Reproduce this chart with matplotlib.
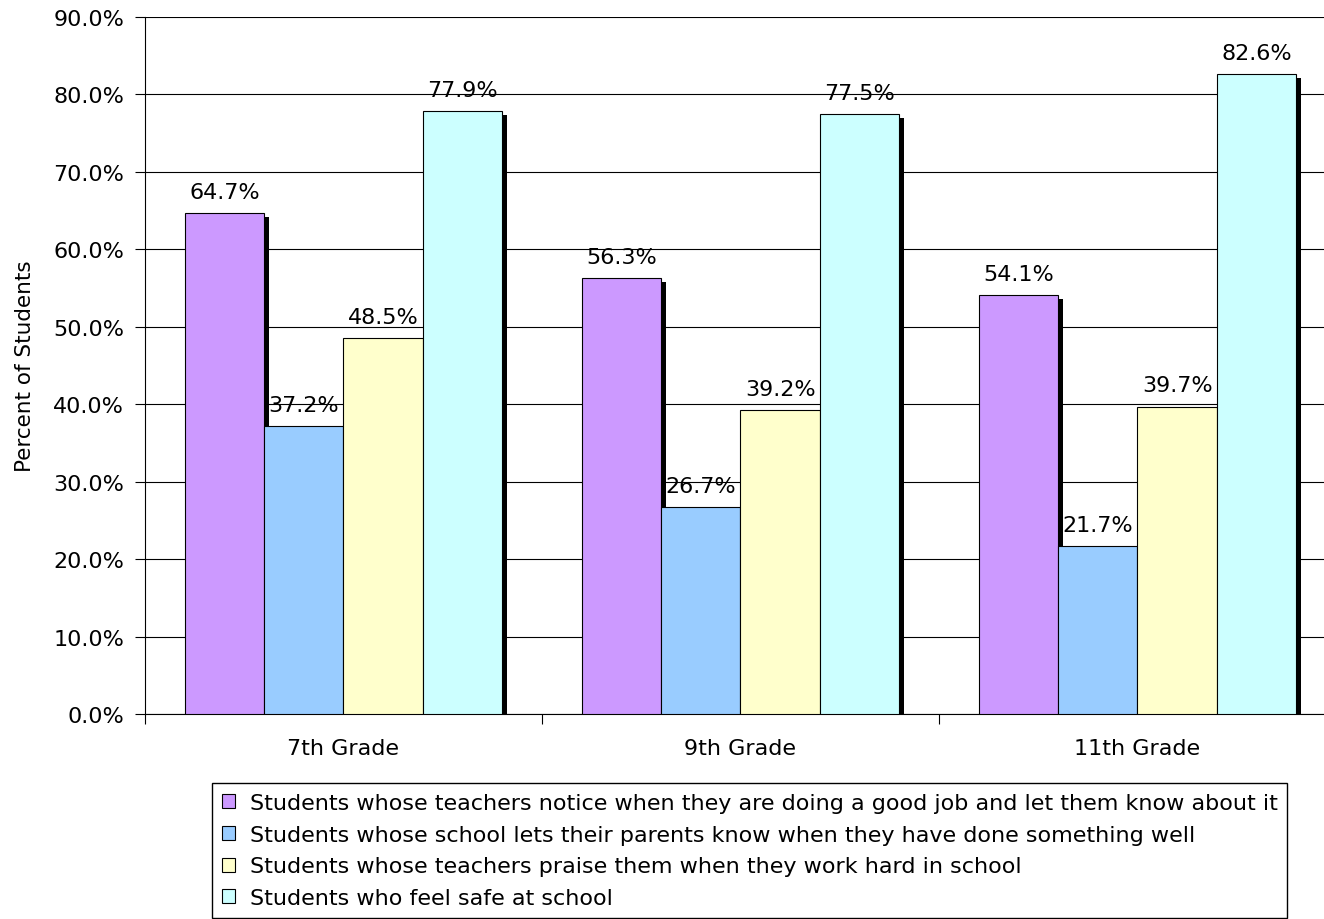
import numpy as np
import matplotlib.pyplot as plt
from matplotlib.ticker import FuncFormatter, FixedLocator

plt.rcParams['font.family'] = ['DejaVu Sans']

grades = ['7th Grade', '9th Grade', '11th Grade']
series_names = [
    'Students whose teachers notice when they are doing a good job and let them know about it',
    'Students whose school lets their parents know when they have done something well',
    'Students whose teachers praise them when they work hard in school',
    'Students who feel safe at school',
]
notice = [64.7, 56.3, 54.1]
parents = [37.2, 26.7, 21.7]
praise = [48.5, 39.2, 39.7]
safe = [77.9, 77.5, 82.6]
colors = ['#cc99ff', '#99ccff', '#ffffcc', '#ccffff']

values = [notice, parents, praise, safe]

fig = plt.figure(figsize=(13.24, 9.2), dpi=100)
ax = fig.add_axes([0.1095, 0.2228, 0.8995, 0.7576])

x = np.arange(len(grades))
w = 0.2
# shadows first so every bar sits on top of them
for i, vals in enumerate(values):
    pos = x + (i - 1.5) * w
    ax.bar(pos + 0.012, np.array(vals) - 0.5, w, bottom=0, color='black', zorder=2)
for i, vals in enumerate(values):
    pos = x + (i - 1.5) * w
    bars = ax.bar(pos, vals, w, color=colors[i], edgecolor='black', linewidth=0.8,
                  label=series_names[i], zorder=3)
    for b, v in zip(bars, vals):
        ax.annotate('%.1f%%' % v, (b.get_x() + b.get_width() / 2, v),
                    xytext=(0, 8), textcoords='offset points',
                    ha='center', va='bottom', fontsize=16, zorder=4)

ax.set_xlim(-0.5, 2.5)
ax.set_ylim(0, 90)
ax.set_yticks(np.arange(0, 91, 10))
ax.yaxis.set_major_formatter(FuncFormatter(lambda v, p: '%.1f%%' % v))
ax.yaxis.grid(True, color='black', linewidth=0.8, zorder=0)
ax.set_axisbelow(True)
ax.tick_params(axis='y', labelsize=16, length=7, width=0.8, pad=8)
ax.set_ylabel('Percent of Students', fontsize=15.5, labelpad=13)

ax.set_xticks(x)
ax.set_xticklabels(grades)
ax.xaxis.set_minor_locator(FixedLocator([-0.5, 0.5, 1.5, 2.5]))
ax.tick_params(axis='x', which='major', length=0, labelsize=16, pad=17)
ax.tick_params(axis='x', which='minor', length=7, width=0.8)

for s in ['top', 'right']:
    ax.spines[s].set_visible(False)
ax.spines['left'].set_linewidth(0.8)
ax.spines['bottom'].set_linewidth(0.8)

fig.legend(loc='upper left', bbox_to_anchor=(0.160, 0.148), fontsize=16,
           frameon=True, fancybox=False, edgecolor='black', framealpha=1,
           handlelength=0.6, handleheight=0.6, handletextpad=0.65,
           labelspacing=0.53, borderpad=0.45, borderaxespad=0)

fig.savefig('out.png', dpi=100)
